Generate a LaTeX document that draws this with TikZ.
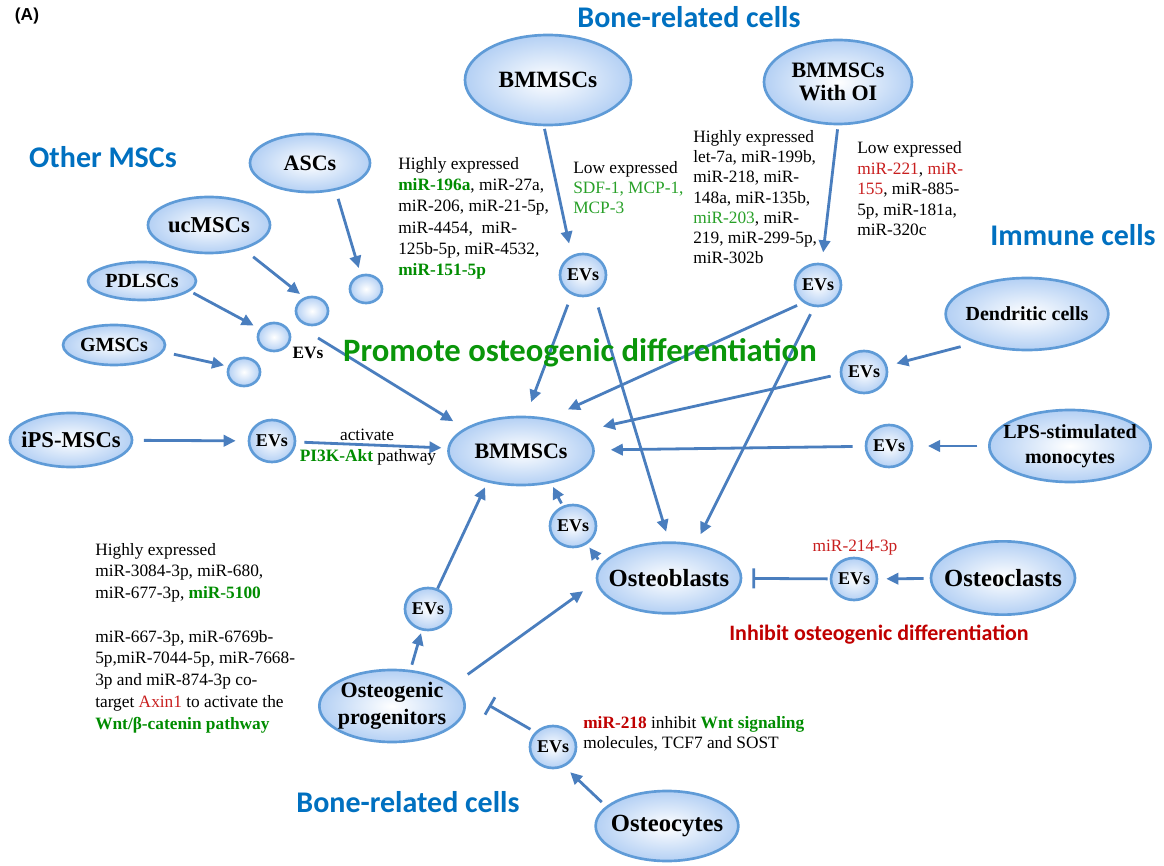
\documentclass[tikz,border=0pt]{standalone}
\usepackage{fontspec}
\setmainfont{Liberation Serif}
\newfontfamily\hdfont{Carlito}
\newfontfamily\arialfont{Liberation Sans}
\usetikzlibrary{shapes.geometric,arrows.meta}
\definecolor{cellborder}{RGB}{95,155,215}
\definecolor{cellfill}{RGB}{180,208,244}
\definecolor{arrblue}{RGB}{74,126,190}
\definecolor{headblue}{RGB}{0,112,192}
\definecolor{promgreen}{RGB}{10,150,10}
\definecolor{tgreen}{RGB}{0,140,0}
\definecolor{lgreen}{RGB}{40,160,40}
\definecolor{tred}{RGB}{200,30,30}
\definecolor{dred}{RGB}{192,0,0}
\newcommand\fsz[2]{\fontsize{#1}{#2}\selectfont}
\begin{document}
\begin{tikzpicture}[x=0.75pt,y=-0.75pt,
  cell/.style={ellipse, draw=cellborder, line width=2pt, inner color=white, outer color=cellfill, inner sep=-20pt, align=center},
  ev/.style={cell, minimum width=34.5pt, minimum height=31.5pt, font=\bfseries\fsz{13.5}{15}},
  sm/.style={cell, minimum width=24pt, minimum height=21pt},
  arr/.style={draw=arrblue, line width=2.1pt, -{Triangle[length=9pt,width=8.5pt]}},
  inh/.style={draw=arrblue, line width=2.1pt, -{Bar[width=15pt]}},
  txt/.style={align=left, inner sep=0pt, anchor=base west},
  hd/.style={text=headblue, inner sep=0pt, font=\hdfont\bfseries\fsz{22.5}{26}}
]
\useasboundingbox (0,0) rectangle (1164,866);

% ---- cells ----
\node[cell, minimum width=124.5pt, minimum height=67.5pt, font=\bfseries\fsz{17.5}{20}] (topbm) at (548,80) {BMMSCs};
\node[cell, minimum width=111pt, minimum height=63pt, font=\bfseries\fsz{16.5}{17.5}] (oi) at (838,82) {BMMSCs\\With OI};
\node[cell, minimum width=90pt, minimum height=43.5pt, font=\bfseries\fsz{16.5}{18}] (asc) at (310,163) {ASCs};
\node[cell, minimum width=91.5pt, minimum height=42pt, font=\bfseries\fsz{17}{18}] (uc) at (209,225) {ucMSCs};
\node[cell, minimum width=81pt, minimum height=28.5pt, font=\bfseries\fsz{15}{16}] (pdl) at (142,281) {PDLSCs};
\node[cell, minimum width=76.5pt, minimum height=30pt, font=\bfseries\fsz{15}{16}] (gm) at (114,345) {GMSCs};
\node[cell, minimum width=91.5pt, minimum height=40.5pt, font=\bfseries\fsz{17}{18}] (ips) at (71,440) {iPS-MSCs};
\node[cell, minimum width=108.75pt, minimum height=51pt, font=\bfseries\fsz{16.5}{18}] (bm) at (521,451) {BMMSCs};
\node[cell, minimum width=122pt, minimum height=54pt, font=\bfseries\fsz{15}{16}] (dc) at (1027,314) {Dendritic cells};
\node[cell, minimum width=121pt, minimum height=54pt, font=\bfseries\fsz{15}{19}] (lps) at (1070,446) {LPS-stimulated\\monocytes};
\node[cell, minimum width=108pt, minimum height=53pt, font=\bfseries\fsz{18.5}{20}] (ob) at (669,578) {Osteoblasts};
\node[cell, minimum width=108pt, minimum height=55pt, font=\bfseries\fsz{18.5}{20}] (ocl) at (1003,578) {Osteoclasts};
\node[cell, minimum width=109pt, minimum height=54pt, font=\bfseries\fsz{16.5}{20}] (op) at (392,706) {Osteogenic\\progenitors};
\node[cell, minimum width=107pt, minimum height=52.5pt, font=\bfseries\fsz{18.5}{20}] (ocy) at (667,826) {Osteocytes};

% ---- EVs ----
\node[ev] (ev1) at (583,275) {EVs};
\node[ev] (ev2) at (818,285) {EVs};
\node[ev] (ev3) at (864,372) {EVs};
\node[ev] (ev4) at (889,446) {EVs};
\node[ev] (ev5) at (854,579) {EVs};
\node[ev] (ev6) at (573,526) {EVs};
\node[ev] (ev7) at (428,609) {EVs};
\node[ev] (ev8) at (553,747) {EVs};
\node[ev] (ev9) at (272,441) {EVs};
\node[sm] (sa) at (366,289) {};
\node[sm] (sb) at (312,311) {};
\node[sm] (sc) at (274,337) {};
\node[sm] (sd) at (244,372) {};
\node[font=\bfseries\fsz{13}{15}, inner sep=0pt] (evlab) at (308,353) {EVs};
\coordinate (evg) at (318,338);

% ---- connectors ----
\draw[arr, shorten <=6.5pt, shorten >=5pt] (asc.-47) -- (sa.110);
\draw[arr, shorten <=9pt, shorten >=4pt] (uc.-35) -- (sb.120);
\draw[arr, shorten <=3pt, shorten >=5pt] (pdl.-12) -- (sc.150);
\draw[arr, shorten <=8pt, shorten >=3pt] (gm.-8) -- (sd.160);
\draw[arr, shorten >=10pt] (evg) -- (bm.158);
\draw[arr, shorten <=8pt, shorten >=9pt] (ips) -- (ev9);
\draw[arr, shorten <=6pt, shorten >=4.5pt] (ev9) -- (bm);
\draw[arr, shorten <=2pt, shorten >=9pt] (topbm.-95) -- (ev1.120);
\draw[arr, shorten <=3pt, shorten >=8pt] (oi.south) -- (ev2.80);
\draw[arr, shorten <=8pt, shorten >=11pt] (ev1.-120) -- (bm.82);
\draw[arr, shorten <=10pt, shorten >=7.5pt] (ev1.-60) -- (ob.north);
\draw[arr, shorten <=5pt, shorten >=16pt] (ev2.-130) -- (bm.50);
\draw[arr, shorten <=6pt, shorten >=8pt] (ev2.-100) -- (ob.52);
\draw[arr, shorten <=11pt, shorten >=7pt] (dc.209) -- (ev3);
\draw[arr, shorten <=7pt, shorten >=16pt] (ev3.185) -- (bm.18);
\draw[arr, shorten <=8pt, shorten >=11pt] (lps) -- (ev4);
\draw[arr, shorten <=9pt, shorten >=12pt] (ev4) -- (bm);
\draw[arr, shorten <=4.5pt, shorten >=6pt] (ocl) -- (ev5);
\draw[inh, shorten <=1.5pt, shorten >=7.5pt] (ev5) -- (ob);
\draw[arr, shorten <=4pt, shorten >=3pt] (ob.168) -- (ev6);
\draw[arr, shorten <=2pt, shorten >=3pt] (ev6) -- (bm.-47);
\draw[arr, shorten <=4pt, shorten >=2pt] (op.63) -- (ev7);
\draw[arr, shorten >=4pt] (ev7) -- (bm.223);
\draw[arr, shorten <=13.5pt, shorten >=12pt] (op.19) -- (ob.183);
\draw[arr, shorten <=4.5pt, shorten >=6pt] (ocy.162) -- (ev8.-60);
\draw[inh, shorten <=4pt, shorten >=38.5pt] (ev8.140) -- (op.north east);

% ---- text blocks ----
\node[txt, font=\fsz{13}{16}] (t1) at (398,276) {Highly expressed\\\textcolor{tgreen}{\textbf{miR-196a}}, miR-27a,\\miR-206, miR-21-5p,\\miR-4454,\ \ miR-\\125b-5p, miR-4532,\\\textcolor{tgreen}{\textbf{miR-151-5p}}};
\node[txt, font=\fsz{13}{15}] (t2) at (573,214) {Low expressed\\\textcolor{lgreen}{SDF-1, MCP-1,}\\\textcolor{lgreen}{MCP-3}};
\node[txt, font=\fsz{13}{15.2}] (t3) at (693,264) {Highly expressed\\let-7a, miR-199b,\\miR-218, miR-\\148a, miR-135b,\\\textcolor{lgreen}{miR-203}, miR-\\219, miR-299-5p,\\miR-302b};
\node[txt, font=\fsz{13}{15.4}] (t4) at (857,236) {Low expressed\\\textcolor{tred}{miR-221}, \textcolor{tred}{miR-}\\\textcolor{tred}{155}, miR-885-\\5p, miR-181a,\\miR-320c};
\node[txt, font=\fsz{13}{16.3}] (t5) at (95,729) {Highly expressed\\miR-3084-3p, miR-680,\\miR-677-3p, \textcolor{tgreen}{\textbf{miR-5100}}\\[16.3pt]miR-667-3p, miR-6769b-\\5p,miR-7044-5p, miR-7668-\\3p and miR-874-3p co-\\target \textcolor{tred}{Axin1} to activate the\\\textcolor{tgreen}{\textbf{Wnt/β-catenin pathway}}};
\node[txt, font=\fsz{13}{15}] (t6) at (583,748) {\textcolor{dred}{\textbf{miR-218}} inhibit \textcolor{tgreen}{\textbf{Wnt signaling}}\\molecules, TCF7 and SOST};
\node[font=\fsz{13}{15}, text=tred, inner sep=0pt] (t7) at (855,548) {miR-214-3p};
\node[font=\fsz{13}{15}, inner sep=0pt] (t8) at (367,435) {activate};
\node[font=\fsz{13}{15}, inner sep=0pt] (t9) at (368,457) {\textcolor{tgreen}{\textbf{PI3K-Akt}} pathway};

% ---- headings ----
\node[font=\arialfont\bfseries\fsz{13}{15}, inner sep=0pt] (lblA) at (27,16) {(A)};
\node[hd] (h1) at (689,17) {Bone-related cells};
\node[hd] (h2) at (103,157) {Other MSCs};
\node[hd] (h3) at (1073,235) {Immune cells};
\node[hd] (h4) at (408,802) {Bone-related cells};
\node[font=\hdfont\bfseries\fsz{24.5}{28}, text=promgreen, inner sep=0pt] (h5) at (580,353) {Promote osteogenic differentiation};
\node[font=\hdfont\bfseries\fsz{16.5}{19}, text=dred, inner sep=0pt] (h6) at (879,635) {Inhibit osteogenic differentiation};
\end{tikzpicture}
\end{document}
